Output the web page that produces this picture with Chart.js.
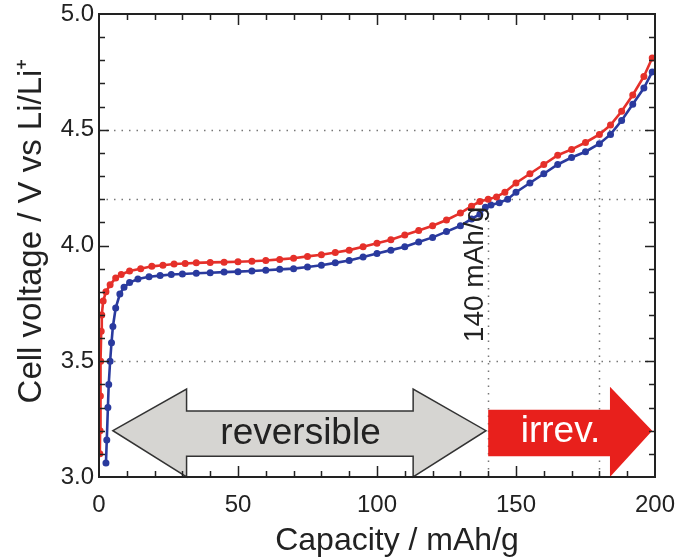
<!DOCTYPE html>
<html>
<head>
<meta charset="utf-8">
<script src="https://cdn.jsdelivr.net/npm/chart.js@4.4.1/dist/chart.umd.min.js"></script>
<style>
  html, body { margin: 0; padding: 0; background: #fff; }
  #wrap { width: 683px; height: 560px; }
</style>
</head>
<body>
<div id="wrap"><canvas id="chart" width="683" height="560"></canvas></div>
<script>
// Charge curves (capacity in mAh/g, voltage in V)
const redCap = [0.3, 0.4, 0.5, 0.6, 0.8, 1.0, 1.5, 2.5, 4, 6, 8, 11, 15, 19, 23, 27, 31, 35, 40, 45,
    50, 55, 60, 65, 70, 75, 80, 85, 90, 95, 100, 105, 110, 115, 120, 125, 130, 134, 137, 140,
    143, 146, 150, 155, 160, 165, 170, 175, 180, 184, 188, 192, 196, 199];
const redV = [3.10, 3.20, 3.35, 3.50, 3.63, 3.70, 3.76, 3.80, 3.83, 3.86, 3.875, 3.89, 3.90, 3.91, 3.915, 3.92, 3.922, 3.925, 3.927, 3.928,
    3.93, 3.932, 3.935, 3.94, 3.945, 3.953, 3.96, 3.97, 3.98, 3.995, 4.01, 4.025, 4.045, 4.065, 4.085, 4.11, 4.14, 4.17, 4.19, 4.20,
    4.21, 4.23, 4.27, 4.31, 4.35, 4.39, 4.415, 4.445, 4.48, 4.52, 4.58, 4.65, 4.73, 4.81];

const blueCap = [2.5, 2.8, 3.2, 3.5, 4.0, 4.5, 5.0, 6.0, 7.5, 9, 11, 14, 18, 22, 26, 30, 35, 40, 45, 50,
    55, 60, 65, 70, 75, 80, 85, 90, 95, 100, 105, 110, 115, 120, 125, 130, 134, 137, 139, 141,
    144, 147, 150, 155, 160, 165, 170, 175, 180, 184, 188, 192, 196, 199];
const blueV = [3.06, 3.16, 3.30, 3.40, 3.50, 3.58, 3.65, 3.73, 3.79, 3.82, 3.84, 3.855, 3.865, 3.87, 3.875, 3.877, 3.88, 3.882, 3.885, 3.887,
    3.89, 3.893, 3.897, 3.90, 3.907, 3.915, 3.925, 3.935, 3.95, 3.965, 3.98, 3.995, 4.015, 4.035, 4.06, 4.085, 4.115, 4.135, 4.165, 4.175,
    4.185, 4.20, 4.23, 4.27, 4.31, 4.35, 4.38, 4.405, 4.44, 4.48, 4.54, 4.61, 4.68, 4.75];

const xTickValues = [0, 50, 100, 150, 200];
const yTickValues = [3.0, 3.5, 4.0, 4.5, 5.0];

// dotted guide lines
const hGuides = [3.5, 4.2, 4.5];
const vGuides = [{ x: 140, top: 4.19 }, { x: 180, top: 4.46 }];

const FONT = '"Liberation Sans", Arial, Helvetica, sans-serif';
const INK = '#222';
const X_TITLE = 'Capacity / mAh/g';
const Y_TITLE = 'Cell voltage / V vs Li/Li\u207A';

const toXY = (xs, ys) => xs.map((x, i) => ({ x, y: ys[i] }));

const decor = {
    id: 'decor',

    beforeDatasetsDraw(chart) {
        const { ctx, chartArea: a, scales: { x, y } } = chart;
        ctx.save();
        ctx.strokeStyle = '#777';
        ctx.lineWidth = 1.5;
        ctx.setLineDash([1.5, 6]);
        for (const v of hGuides) {
            const py = Math.round(y.getPixelForValue(v)) + 0.5;
            ctx.beginPath(); ctx.moveTo(a.left, py); ctx.lineTo(a.right, py); ctx.stroke();
        }
        for (const g of vGuides) {
            const px = Math.round(x.getPixelForValue(g.x)) + 0.5;
            ctx.beginPath(); ctx.moveTo(px, a.bottom); ctx.lineTo(px, y.getPixelForValue(g.top)); ctx.stroke();
        }
        ctx.restore();
    },

    afterDatasetsDraw(chart) {
        const { ctx, scales: { x, y } } = chart;
        const P = (cx, cy) => [x.getPixelForValue(cx), y.getPixelForValue(cy)];
        const poly = pts => {
            ctx.beginPath();
            pts.forEach((p, i) => { const [px, py] = P(p[0], p[1]); i ? ctx.lineTo(px, py) : ctx.moveTo(px, py); });
            ctx.closePath();
        };
        ctx.save();

        // "reversible" double arrow
        poly([[5, 3.2], [31.5, 3.38], [31.5, 3.285], [113, 3.285], [113, 3.38], [139.2, 3.2],
              [113, 3.0], [113, 3.09], [31.5, 3.09], [31.5, 3.0]]);
        ctx.fillStyle = '#d6d5d2';
        ctx.fill();
        ctx.strokeStyle = '#333';
        ctx.lineWidth = 1.5;
        ctx.stroke();

        // "irrev." arrow
        poly([[140, 3.29], [183.8, 3.29], [183.8, 3.39], [199, 3.2], [183.8, 3.0], [183.8, 3.09], [140, 3.09]]);
        ctx.fillStyle = '#e8201c';
        ctx.fill();

        ctx.textAlign = 'center';
        ctx.textBaseline = 'middle';
        ctx.font = '37px ' + FONT;
        ctx.fillStyle = INK;
        let [px, py] = P(72.5, 3.185);
        ctx.fillText('reversible', px, py);
        ctx.fillStyle = '#fff';
        [px, py] = P(166, 3.195);
        ctx.fillText('irrev.', px, py);

        // 140 mAh/g label
        [px, py] = P(138, 3.875);
        ctx.translate(px, py);
        ctx.rotate(-Math.PI / 2);
        ctx.textBaseline = 'alphabetic';
        ctx.fillStyle = INK;
        ctx.font = '28px ' + FONT;
        ctx.fillText('140 mAh/g', 0, 0);
        ctx.restore();
    },

    afterDraw(chart) {
        const { ctx, chartArea: a, scales: { x, y } } = chart;
        ctx.save();
        ctx.strokeStyle = INK;
        ctx.lineWidth = 2;
        ctx.strokeRect(a.left, a.top, a.right - a.left, a.bottom - a.top);
        ctx.lineWidth = 1.5;
        ctx.beginPath();
        for (let v = 10; v < 200; v += 10) {
            const px = Math.round(x.getPixelForValue(v)) + 0.5;
            const len = v % 50 === 0 ? 11 : 6;
            ctx.moveTo(px, a.bottom); ctx.lineTo(px, a.bottom - len);
            ctx.moveTo(px, a.top); ctx.lineTo(px, a.top + len);
        }
        for (let k = 31; k < 50; k++) {
            const py = Math.round(y.getPixelForValue(k / 10)) + 0.5;
            const len = k % 5 === 0 ? 10 : 6;
            ctx.moveTo(a.left, py); ctx.lineTo(a.left + len, py);
            ctx.moveTo(a.right, py); ctx.lineTo(a.right - len, py);
        }
        ctx.stroke();

        // axis titles (offset from the plot centre as in the original figure)
        ctx.fillStyle = INK;
        ctx.textAlign = 'center';
        ctx.textBaseline = 'middle';
        ctx.font = '32px ' + FONT;
        ctx.fillText(X_TITLE, a.left + 298, 541);
        ctx.translate(32, a.top + 217);
        ctx.rotate(-Math.PI / 2);
        ctx.font = '33px ' + FONT;
        ctx.fillText(Y_TITLE, 0, 0);
        ctx.restore();
    },
};

new Chart(document.getElementById('chart'), {
    type: 'line',
    data: {
        datasets: [
            {
                label: 'red',
                data: toXY(redCap, redV),
                borderColor: '#e5302a',
                backgroundColor: '#e5302a',
                borderWidth: 2.6,
                pointRadius: 2.2,
                pointHoverRadius: 2.2,
                tension: 0,
            },
            {
                label: 'blue',
                data: toXY(blueCap, blueV),
                borderColor: '#2a3a9e',
                backgroundColor: '#2a3a9e',
                borderWidth: 2.6,
                pointRadius: 2.2,
                pointHoverRadius: 2.2,
                tension: 0,
            },
        ],
    },
    options: {
        responsive: false,
        animation: false,
        devicePixelRatio: 1,
        layout: { padding: { top: 14, right: 28, left: 0, bottom: 0 } },
        plugins: { legend: { display: false }, tooltip: { enabled: false } },
        scales: {
            x: {
                type: 'linear',
                min: 0,
                max: 200,
                afterFit: s => { s.height = 83; s.paddingLeft = 0; s.paddingRight = 0; },
                afterBuildTicks: s => { s.ticks = xTickValues.map(value => ({ value })); },
                grid: { display: false, drawTicks: false },
                border: { display: false },
                ticks: { color: INK, padding: 14, font: { family: FONT, size: 24 } },
            },
            y: {
                type: 'linear',
                min: 3,
                max: 5,
                afterFit: s => { s.width = 99; s.paddingTop = 0; s.paddingBottom = 0; },
                afterBuildTicks: s => { s.ticks = yTickValues.map(value => ({ value })); },
                grid: { display: false, drawTicks: false },
                border: { display: false },
                ticks: {
                    color: INK,
                    padding: 5,
                    font: { family: FONT, size: 24, lineHeight: 1 },
                    callback: v => v.toFixed(1),
                },
            },
        },
    },
    plugins: [decor],
});
</script>
</body>
</html>
